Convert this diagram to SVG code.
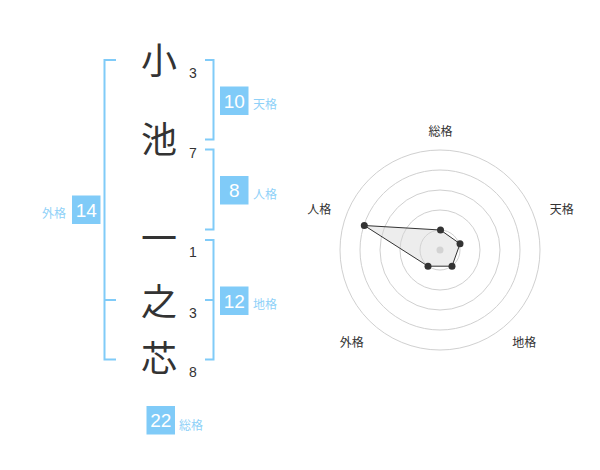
<svg xmlns="http://www.w3.org/2000/svg" width="600" height="470" viewBox="0 0 600 470">
<style>
.kanji{font-family:"Noto Sans CJK JP","Noto Sans CJK SC",sans-serif;font-size:36px;fill:#333;text-anchor:middle}
.num{font-family:"Liberation Sans",Arial,sans-serif;font-size:14px;fill:#333}
.br{fill:none;stroke:#80CBF8;stroke-width:2}
.box{fill:#80CBF8}
.bnum{font-family:"Liberation Sans",Arial,sans-serif;font-size:19px;fill:#fff;text-anchor:middle}
.lab{font-family:"Noto Sans CJK JP","Noto Sans CJK SC",sans-serif;font-size:12px;fill:#8FD1F8}
.ring{fill:none;stroke:#d0d0d0;stroke-width:1}
.rlab{font-family:"Noto Sans CJK JP","Noto Sans CJK SC",sans-serif;font-size:12px;fill:#333;text-anchor:middle}
.pt{fill:#333}
</style>
<rect width="600" height="470" fill="#fff"/>

<g id="names">
<text class="kanji" x="159" y="74">小</text>
<text class="kanji" x="159" y="152.5">池</text>
<text class="kanji" x="159" y="252">一</text>
<text class="kanji" x="159" y="315">之</text>
<text class="kanji" x="159" y="371.5">芯</text>
<text class="num" x="189" y="77.7">3</text>
<text class="num" x="189" y="158">7</text>
<text class="num" x="189" y="257.3">1</text>
<text class="num" x="189" y="317.7">3</text>
<text class="num" x="189" y="376.7">8</text>
</g>

<g id="connectors">
<path class="br" d="M116,60 H104.5 V359.5 H116 M104.5,300 H116"/>
<path class="br" d="M205,60 H213.5 V139.5 H205"/>
<path class="br" d="M205,149.5 H213.5 V229.5 H205"/>
<path class="br" d="M205,240 H213.5 V359.5 H205 M205,300 H213.5"/>
</g>

<g id="tenkaku">
<rect class="box" x="220" y="86.5" width="28.5" height="28.5"/>
<text class="bnum" x="234.2" y="107.5">10</text>
<text class="lab" x="253" y="109">天格</text>
</g>
<g id="jinkaku">
<rect class="box" x="220" y="176" width="28.5" height="28.5"/>
<text class="bnum" x="234.2" y="197">8</text>
<text class="lab" x="253" y="198.5">人格</text>
</g>
<g id="chikaku">
<rect class="box" x="220" y="286.5" width="28.5" height="28.5"/>
<text class="bnum" x="234.2" y="307.8">12</text>
<text class="lab" x="253" y="309">地格</text>
</g>
<g id="gaikaku">
<rect class="box" x="72" y="195.5" width="28.5" height="28.5"/>
<text class="bnum" x="86.2" y="216.5">14</text>
<text class="lab" x="66" y="218" text-anchor="end">外格</text>
</g>
<g id="soukaku">
<rect class="box" x="146.5" y="406" width="28.5" height="28.5"/>
<text class="bnum" x="160.7" y="427">22</text>
<text class="lab" x="179" y="429.5">総格</text>
</g>

<g id="radar">
<circle class="ring" cx="440" cy="250" r="100"/>
<circle class="ring" cx="440" cy="250" r="80"/>
<circle class="ring" cx="440" cy="250" r="60"/>
<circle class="ring" cx="440" cy="250" r="40"/>
<circle class="ring" cx="440" cy="250" r="20"/>
<circle cx="440" cy="250" r="3.5" fill="#cfcfcf"/>
<polygon points="440.5,230 460,243.8 452,266.2 428,266.2 364.3,225.5" fill="#d8d8d8" fill-opacity="0.45" stroke="#333" stroke-width="1"/>
<circle class="pt" cx="440.5" cy="230" r="3.5"/>
<circle class="pt" cx="460" cy="243.8" r="3.5"/>
<circle class="pt" cx="452" cy="266.2" r="3.5"/>
<circle class="pt" cx="428" cy="266.2" r="3.5"/>
<circle class="pt" cx="364.3" cy="225.5" r="3.5"/>
<text class="rlab" x="440.5" y="135.5">総格</text>
<text class="rlab" x="561.7" y="213.5">天格</text>
<text class="rlab" x="524.2" y="346.5">地格</text>
<text class="rlab" x="351.7" y="346.5">外格</text>
<text class="rlab" x="319.2" y="213.5">人格</text>
</g>
</svg>
